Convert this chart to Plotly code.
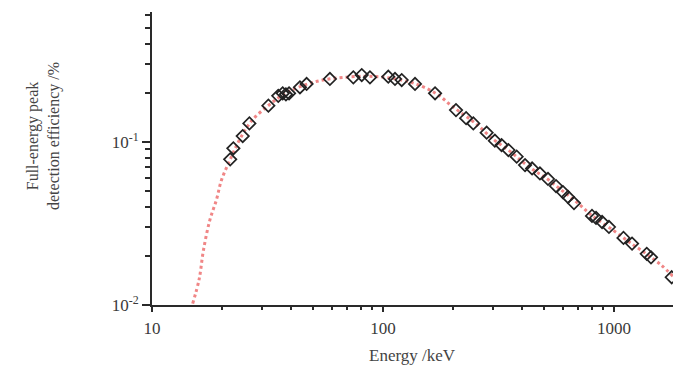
import plotly.graph_objects as go

# Measured data points (energy keV, efficiency)
energy = [21.8, 22.5, 24.7, 26.4, 31.9, 35.2, 36.8, 38.0, 39.2, 43.7, 46.7,
          58.9, 74.4, 80.9, 87.8, 105.4, 112.7, 120.5, 137.6, 168.0,
          207, 229, 246, 281, 305, 326, 349, 379, 412, 442, 478, 518, 561,
          601, 632, 671, 803, 836, 888, 951, 1099, 1197, 1386, 1446, 1778]
efficiency = [0.0783, 0.0915, 0.1088, 0.130, 0.167, 0.192, 0.199, 0.196, 0.199, 0.2166, 0.227,
              0.2435, 0.2494, 0.2576, 0.2494, 0.2515, 0.2435, 0.240, 0.227, 0.199,
              0.157, 0.140, 0.130, 0.114, 0.1018, 0.0958, 0.0893, 0.0813, 0.0722, 0.0688, 0.0641, 0.0593, 0.0537,
              0.0493, 0.046, 0.0422, 0.0352, 0.0342, 0.0323, 0.0301, 0.0258, 0.0238, 0.0206, 0.0196, 0.0148]

# Fitted curve
fit_energy = [15.0, 16.0, 16.7, 17.8, 19.0, 20.0, 21.8, 24.0, 27.0, 32, 37, 45, 55, 70, 85,
              100, 120, 140, 170, 200, 250, 300, 350, 400, 450, 500, 600, 700, 800,
              1000, 1200, 1400, 1600, 1800]
fit_eff = [0.0102, 0.0144, 0.0217, 0.0332, 0.0441, 0.0585, 0.078, 0.104, 0.135, 0.168, 0.195, 0.222,
           0.240, 0.250, 0.253, 0.250, 0.240, 0.226, 0.198, 0.165, 0.131, 0.104, 0.089, 0.076,
           0.067, 0.061, 0.050, 0.042, 0.0355, 0.0285, 0.0236, 0.0203, 0.0176, 0.0150]

x_ticks = [10, 100, 1000]
x_ticktext = ["10", "100", "1000"]
x_minor = [20, 30, 40, 50, 60, 70, 80, 90, 200, 300, 400, 500, 600, 700, 800, 900]
y_ticks = [0.01, 0.1]
y_ticktext = ["10<sup>-2</sup>", "10<sup>-1</sup>"]
y_minor = [0.02, 0.03, 0.04, 0.05, 0.06, 0.07, 0.08, 0.09, 0.2, 0.3, 0.4, 0.5, 0.6]

FONT = "Liberation Serif"
AX = "#2a2a2a"
TXT = "#3a3a3a"

fig = go.Figure()
fig.add_trace(go.Scatter(x=fit_energy, y=fit_eff, mode="lines",
                         line=dict(color="#f08686", width=3, dash="dot", shape="spline"),
                         showlegend=False, hoverinfo="skip"))
fig.add_trace(go.Scatter(x=energy, y=efficiency, mode="markers",
                         marker=dict(symbol="diamond-open", size=9.5, color="#222222",
                                     line=dict(width=1.7, color="#222222")),
                         showlegend=False))

fig.update_layout(
    width=673, height=366,
    margin=dict(l=152, r=0, t=12, b=61),
    paper_bgcolor="white", plot_bgcolor="white",
    font=dict(family=FONT, size=17, color=TXT),
    xaxis=dict(type="log", range=[1, 3.2554], showline=True, linecolor=AX, linewidth=2,
               ticks="outside", ticklen=5, tickwidth=1.5, tickcolor=AX,
               tickmode="array", tickvals=x_ticks, ticktext=x_ticktext,
               ticklabelstandoff=2,
               minor=dict(tickmode="array", tickvals=x_minor, ticks="outside",
                          ticklen=3, tickwidth=1.5, tickcolor=AX, showgrid=False),
               showgrid=False, zeroline=False,
               tickfont=dict(family=FONT, size=17, color=TXT)),
    yaxis=dict(type="log", range=[-2, -0.2025], showline=True, linecolor=AX, linewidth=2,
               ticks="outside", ticklen=8, tickwidth=1.5, tickcolor=AX,
               tickmode="array", tickvals=y_ticks, ticktext=y_ticktext,
               minor=dict(tickmode="array", tickvals=y_minor, ticks="outside",
                          ticklen=5, tickwidth=1.5, tickcolor=AX, showgrid=False),
               showgrid=False, zeroline=False,
               tickfont=dict(family=FONT, size=17, color=TXT)),
    annotations=[
        dict(text="Full-energy peak<br>detection efficiency /%", xref="paper", yref="paper",
             x=(43 - 152) / 521, y=(305 - 136) / 293, textangle=-90, showarrow=False,
             xanchor="center", yanchor="middle",
             font=dict(family=FONT, size=16, color="#444444")),
        dict(text="Energy /keV", xref="paper", yref="paper",
             x=(412 - 152) / 521, y=(305 - 355) / 293, showarrow=False,
             xanchor="center", yanchor="middle",
             font=dict(family=FONT, size=17, color="#444444")),
    ],
)

page_fix = ("document.documentElement.style.overflow='hidden';"
            "document.body.style.margin='0';document.body.style.overflow='hidden';")
fig.write_html("out.html", post_script=page_fix, config={"displayModeBar": False})
